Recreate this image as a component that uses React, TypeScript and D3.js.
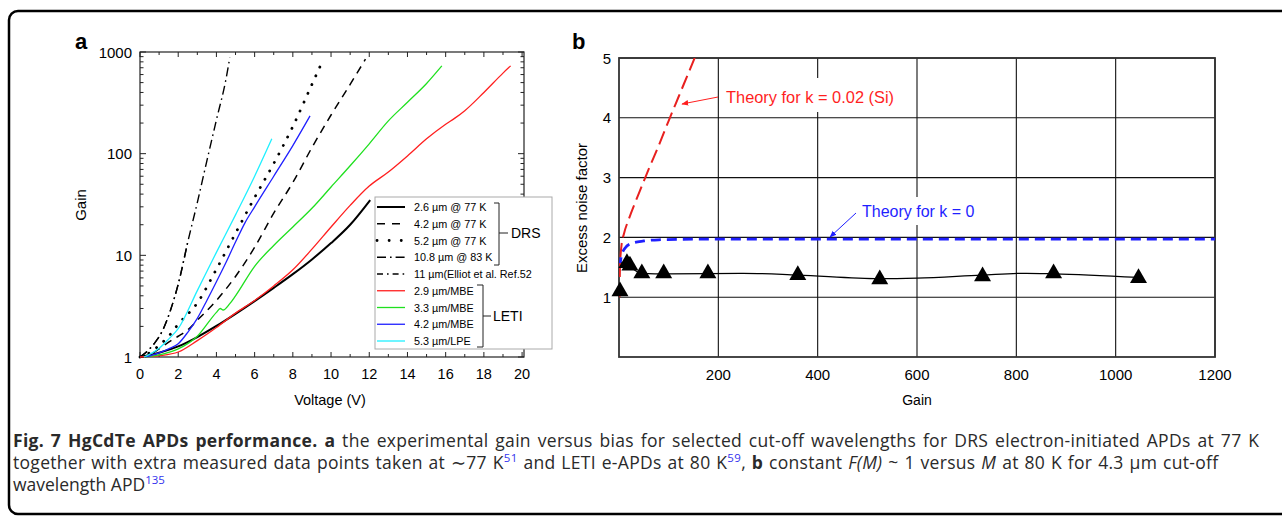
import React from "react";
import * as d3 from "d3";

// ---------- Panel a data (Voltage V, Gain) ----------
const voltageTicks = [0, 2, 4, 6, 8, 10, 12, 14, 16, 18, 20];
const gainTicksA = [1, 10, 100, 1000];

const drs26 = [[0, 1], [1, 1.1], [2, 1.27], [3, 1.57], [4, 2.02], [5, 2.66], [6, 3.55], [7, 4.79], [8, 6.53], [9, 9.12], [10, 13.2], [11, 20], [12.05, 35]];
const drs42 = [[0, 1], [0.5, 1.05], [1, 1.2], [1.5, 1.4], [2, 1.6], [2.5, 1.85], [3, 2.3], [4, 3.6], [5, 6.2], [6, 12], [7, 26], [8, 52], [9, 115], [10, 240], [11, 480], [11.8, 850]];
const drs52 = [[0, 1], [0.5, 1.1], [1, 1.3], [1.5, 1.6], [2, 2.1], [3, 3.4], [4, 7.3], [5, 16.5], [6, 37], [7, 80], [8, 185], [9, 480], [9.6, 850]];
const drs108 = [[0, 1], [0.4, 1.15], [0.8, 1.4], [1.2, 1.85], [1.6, 2.9], [2, 5.2], [2.5, 13.5], [3, 33], [3.5, 85], [4, 215], [4.5, 540], [4.7, 880]];
const elliot11 = [[0, 1], [0.4, 1.15], [0.8, 1.4], [1.2, 1.85], [1.6, 2.9], [2, 5.2], [2.5, 13.5]];
const leti29 = [[0, 1], [1, 1.03], [2, 1.12], [3, 1.45], [4, 1.95], [5, 2.7], [6, 3.6], [7, 5.0], [8, 7.2], [9, 11.5], [10, 19], [11, 31], [12, 48], [13, 66], [14, 95], [15, 140], [16, 195], [16.5, 225], [17, 265], [18, 400], [19, 620], [19.4, 730]];
const leti33 = [[0.3, 1], [1, 1.05], [2, 1.2], [3, 1.6], [4, 2.75], [4.2, 3.0], [4.35, 2.9], [4.7, 3.35], [5, 4.0], [6, 7.8], [7, 12.5], [8, 19], [9, 29], [10, 47], [11, 76], [12, 125], [13, 210], [14, 320], [15, 490], [15.8, 730]];
const leti42 = [[0.3, 1], [1, 1.1], [1.5, 1.2], [2, 1.35], [2.5, 1.75], [3, 2.4], [3.5, 3.6], [4, 5.5], [4.5, 8.5], [5, 13.5], [5.5, 21], [6, 30], [7, 60], [8, 120], [8.9, 235]];
const leti53 = [[0.2, 1], [0.5, 1.06], [1, 1.22], [1.5, 1.5], [2, 1.9], [3, 4.5], [4, 10.7], [5, 25], [6, 60], [6.9, 140]];

const legendLabels = ["2.6 µm @ 77 K", "4.2 µm @ 77 K", "5.2 µm @ 77 K", "10.8 µm @ 83 K", "11 µm(Elliot et al. Ref.52", "2.9 µm/MBE", "3.3 µm/MBE", "4.2 µm/MBE", "5.3 µm/LPE"];

// ---------- Panel b data (Gain M, Excess noise factor F) ----------
const gainTicksB = [200, 400, 600, 800, 1000, 1200];
const noiseTicks = [1, 2, 3, 4, 5];
const theorySiM = [1, 2, 5, 10, 20, 40, 60, 80, 100, 120, 140, 153];
const theorySiF = [1, 1.51, 1.864, 2.062, 2.311, 2.736, 3.144, 3.536, 3.95, 4.352, 4.753, 5.014];
const theoryK0M = [2, 3, 6, 12, 25, 50, 80, 150, 400, 800, 1200];
const theoryK0F = [1.5, 1.6, 1.72, 1.82, 1.9, 1.94, 1.96, 1.97, 1.97, 1.97, 1.97];
const measM = [2, 16, 22, 46, 90, 179, 360, 525, 732, 875, 1046];
const measF = [1.1, 1.57, 1.53, 1.4, 1.4, 1.4, 1.37, 1.3, 1.35, 1.4, 1.32];
const fitM = [5, 20, 45, 100, 250, 360, 525, 600, 730, 820, 875, 1046];
const fitF = [1.58, 1.52, 1.4, 1.39, 1.4, 1.37, 1.31, 1.32, 1.37, 1.4, 1.39, 1.33];

const FONT = "'Liberation Sans', Arial, Helvetica, sans-serif";
const CAP = "'Open Sans', 'Noto Sans', sans-serif";

export default function App() {
  const xA = d3.scaleLinear().domain([0, 20.1]).range([140, 524]);
  const yA = d3.scaleLog().domain([1, 1000]).range([357, 52]);
  const lineA = d3.line<number[]>().x(d => xA(d[0])).y(d => yA(d[1])).curve(d3.curveMonotoneX);

  const xB = d3.scaleLinear().domain([0, 1200]).range([619, 1215]);
  const yB = d3.scaleLinear().domain([0, 5]).range([357, 58]);
  const pathB = (ms: number[], fs: number[]) =>
    d3.line<number>().curve(d3.curveMonotoneX).x((_, i) => xB(ms[i])).y((_, i) => yB(fs[i]))(ms) || "";

  const seriesStyles = [
    { data: drs26, stroke: "#000", w: 2, dash: "", cap: "butt" },
    { data: drs42, stroke: "#000", w: 1.5, dash: "8,6", cap: "butt" },
    { data: drs52, stroke: "#000", w: 2.8, dash: "0.1,9.5", cap: "round" },
    { data: drs108, stroke: "#000", w: 1.4, dash: "9,4,1.6,4", cap: "butt" },
    { data: elliot11, stroke: "#000", w: 1.4, dash: "9,4,1.6,4", cap: "butt" },
    { data: leti29, stroke: "#ff1f1f", w: 1.3, dash: "", cap: "butt" },
    { data: leti33, stroke: "#1fe01f", w: 1.3, dash: "", cap: "butt" },
    { data: leti42, stroke: "#1f1fff", w: 1.3, dash: "", cap: "butt" },
    { data: leti53, stroke: "#1ff0ff", w: 1.3, dash: "", cap: "butt" },
  ];
  const legendDash = ["", "8,7", "0.1,12", "9,4,1.6,4", "6,4,1.6,4", "", "", "", ""];

  const minorLog: number[] = [];
  [1, 10, 100].forEach(dec => { for (let k = 2; k <= 9; k++) minorLog.push(dec * k); });
  const minorV = d3.range(0, 21, 1);

  const legX = 375, legY = 197, legW = 177, legH = 152;
  const rowY = (i: number) => 207 + i * 16.75;

  const tri = d3.symbol().type(d3.symbolTriangle).size(125)() || "";

  return (
    <svg width={1282} height={517} style={{ position: "absolute", left: 0, top: 0 }} fontFamily={FONT}>
      <defs>
        <clipPath id="clipB">
          <rect x={619} y={58} width={596} height={299} />
        </clipPath>
        <marker id="arrR" viewBox="0 0 10 10" refX="9" refY="5" markerWidth="7" markerHeight="7" orient="auto">
          <path d="M0,1 L10,5 L0,9 z" fill="#ff1f1f" />
        </marker>
        <marker id="arrB" viewBox="0 0 10 10" refX="9" refY="5" markerWidth="7" markerHeight="7" orient="auto">
          <path d="M0,1 L10,5 L0,9 z" fill="#1f1fff" />
        </marker>
      </defs>
      <rect x={0} y={0} width={1282} height={517} fill="#fff" />
      <rect x={9} y={11} width={1300} height={503} rx={9} fill="none" stroke="#000" strokeWidth={2.5} />

      {/* ================= Panel a ================= */}
      <text x={75} y={49} fontSize={22} fontWeight="bold">a</text>
      <rect x={140} y={52} width={384} height={305} fill="none" stroke="#222" strokeWidth={1.2} />
      {minorV.map(v => (
        <g key={"vx" + v}>
          <line x1={xA(v)} x2={xA(v)} y1={357} y2={v % 2 === 0 ? 352 : 354} stroke="#222" strokeWidth={1} />
          <line x1={xA(v)} x2={xA(v)} y1={52} y2={v % 2 === 0 ? 57 : 55} stroke="#222" strokeWidth={1} />
        </g>
      ))}
      {voltageTicks.map(v => (
        <text key={"vl" + v} x={xA(v)} y={374} fontSize={14.5} textAnchor="middle" dominantBaseline="central">{v}</text>
      ))}
      {gainTicksA.map(g => (
        <g key={"gy" + g}>
          <line x1={140} x2={146} y1={yA(g)} y2={yA(g)} stroke="#222" strokeWidth={1} />
          <line x1={524} x2={518} y1={yA(g)} y2={yA(g)} stroke="#222" strokeWidth={1} />
          <text x={132} y={yA(g)} fontSize={15} textAnchor="end" dominantBaseline="central">{g}</text>
        </g>
      ))}
      {minorLog.map(g => (
        <g key={"gm" + g}>
          <line x1={140} x2={143.5} y1={yA(g)} y2={yA(g)} stroke="#222" strokeWidth={1} />
          <line x1={524} x2={520.5} y1={yA(g)} y2={yA(g)} stroke="#222" strokeWidth={1} />
        </g>
      ))}
      <text x={330} y={400} fontSize={14.5} textAnchor="middle" dominantBaseline="central">Voltage (V)</text>
      <text transform="translate(80,205) rotate(-90)" fontSize={15} textAnchor="middle" dominantBaseline="central">Gain</text>

      {seriesStyles.map((s, i) => (
        <path key={"s" + i} d={lineA(s.data) || ""} fill="none" stroke={s.stroke} strokeWidth={s.w}
          strokeDasharray={s.dash || undefined} strokeLinecap={s.cap as any} />
      ))}

      <rect x={legX} y={legY} width={legW} height={legH} fill="#fff" stroke="#aaa" strokeWidth={1} />
      {seriesStyles.map((s, i) => (
        <g key={"lg" + i}>
          <line x1={377} x2={405} y1={rowY(i)} y2={rowY(i)} stroke={s.stroke} strokeWidth={s.w}
            strokeDasharray={legendDash[i] || undefined} strokeLinecap={s.cap as any} />
          <text x={414} y={rowY(i)} fontSize={10.8} dominantBaseline="central">{legendLabels[i]}</text>
        </g>
      ))}
      <path d="M494,203 H499 V265 H494 M499,233 H508" fill="none" stroke="#222" strokeWidth={1} />
      <text x={511} y={233} fontSize={14} dominantBaseline="central">DRS</text>
      <path d="M477,285 H483 V347 H477 M483,316 H491" fill="none" stroke="#222" strokeWidth={1} />
      <text x={493} y={316} fontSize={14} dominantBaseline="central">LETI</text>

      {/* ================= Panel b ================= */}
      <text x={572} y={49} fontSize={22} fontWeight="bold">b</text>
      {gainTicksB.map(m => (
        <line key={"gx" + m} x1={xB(m)} x2={xB(m)} y1={58} y2={357} stroke="#111" strokeWidth={1.1} />
      ))}
      {noiseTicks.map(f => (
        <line key={"gyb" + f} x1={619} x2={1215} y1={yB(f)} y2={yB(f)} stroke="#111" strokeWidth={1.1} />
      ))}
      <rect x={721} y={78} width={176} height={34} fill="#fff" />
      <rect x={852} y={197} width={132} height={28} fill="#fff" />
      <rect x={619} y={58} width={596} height={299} fill="none" stroke="#333" strokeWidth={1.8} />
      {noiseTicks.map(f => (
        <text key={"nl" + f} x={611} y={yB(f)} fontSize={15} textAnchor="end" dominantBaseline="central">{f}</text>
      ))}
      {gainTicksB.map(m => (
        <text key={"ml" + m} x={xB(m)} y={374} fontSize={15} textAnchor="middle" dominantBaseline="central">{m}</text>
      ))}
      <text x={917} y={400} fontSize={14} textAnchor="middle" dominantBaseline="central">Gain</text>
      <text transform="translate(581,208) rotate(-90)" fontSize={15} textAnchor="middle" dominantBaseline="central">Excess noise factor</text>

      <g clipPath="url(#clipB)">
        <path d={pathB(theoryK0M, theoryK0F)} fill="none" stroke="#1f1fff" strokeWidth={2.8} strokeDasharray="10,6" />
        <path d={pathB(theorySiM, theorySiF)} fill="none" stroke="#e8201f" strokeWidth={2} strokeDasharray="14,6" />
      </g>
      <path d={pathB(fitM, fitF)} fill="none" stroke="#000" strokeWidth={1.2} />
      {measM.map((m, i) => (
        <path key={"tr" + i} d={tri} transform={`translate(${xB(m)},${yB(measF[i])})`} fill="#000" />
      ))}

      <line x1={718} y1={97} x2={682} y2={104} stroke="#ff1f1f" strokeWidth={1} markerEnd="url(#arrR)" />
      <text x={726} y={97} fontSize={16.4} fill="#ff1f1f" dominantBaseline="central">Theory for k = 0.02 (Si)</text>
      <line x1={856} y1={213} x2={830} y2={237} stroke="#1f1fff" strokeWidth={1} markerEnd="url(#arrB)" />
      <text x={862} y={211} fontSize={16} fill="#1f1fff" dominantBaseline="central">Theory for k = 0</text>

      {/* ================= Caption ================= */}
      <g fontFamily={CAP} fontSize={17.5} fill="#2a2a2a">
        <text x={13} y={447} letterSpacing={0.3} wordSpacing={2}>
          <tspan fontWeight="bold">Fig. 7 HgCdTe APDs performance.</tspan>
          <tspan> </tspan>
          <tspan fontWeight="bold">a</tspan>
          <tspan> the experimental gain versus bias for selected cut-off wavelengths for DRS electron-initiated APDs at 77 K</tspan>
        </text>
        <text x={13} y={469} letterSpacing={0.3} wordSpacing={1}>
          <tspan>together with extra measured data points taken at ∼77 K</tspan>
          <tspan dy={-7} fontSize={11.5} fill="#3333ee">51</tspan>
          <tspan dy={7}> and LETI e-APDs at 80 K</tspan>
          <tspan dy={-7} fontSize={11.5} fill="#3333ee">59</tspan>
          <tspan dy={7}>, </tspan>
          <tspan fontWeight="bold">b</tspan>
          <tspan> constant </tspan>
          <tspan fontStyle="italic">F(M)</tspan>
          <tspan> ~ 1 versus </tspan>
          <tspan fontStyle="italic">M</tspan>
          <tspan> at 80 K for 4.3 µm cut-off</tspan>
        </text>
        <text x={13} y={491}>
          <tspan>wavelength APD</tspan>
          <tspan dy={-7} fontSize={11.5} fill="#3333ee">135</tspan>
        </text>
      </g>
    </svg>
  );
}
